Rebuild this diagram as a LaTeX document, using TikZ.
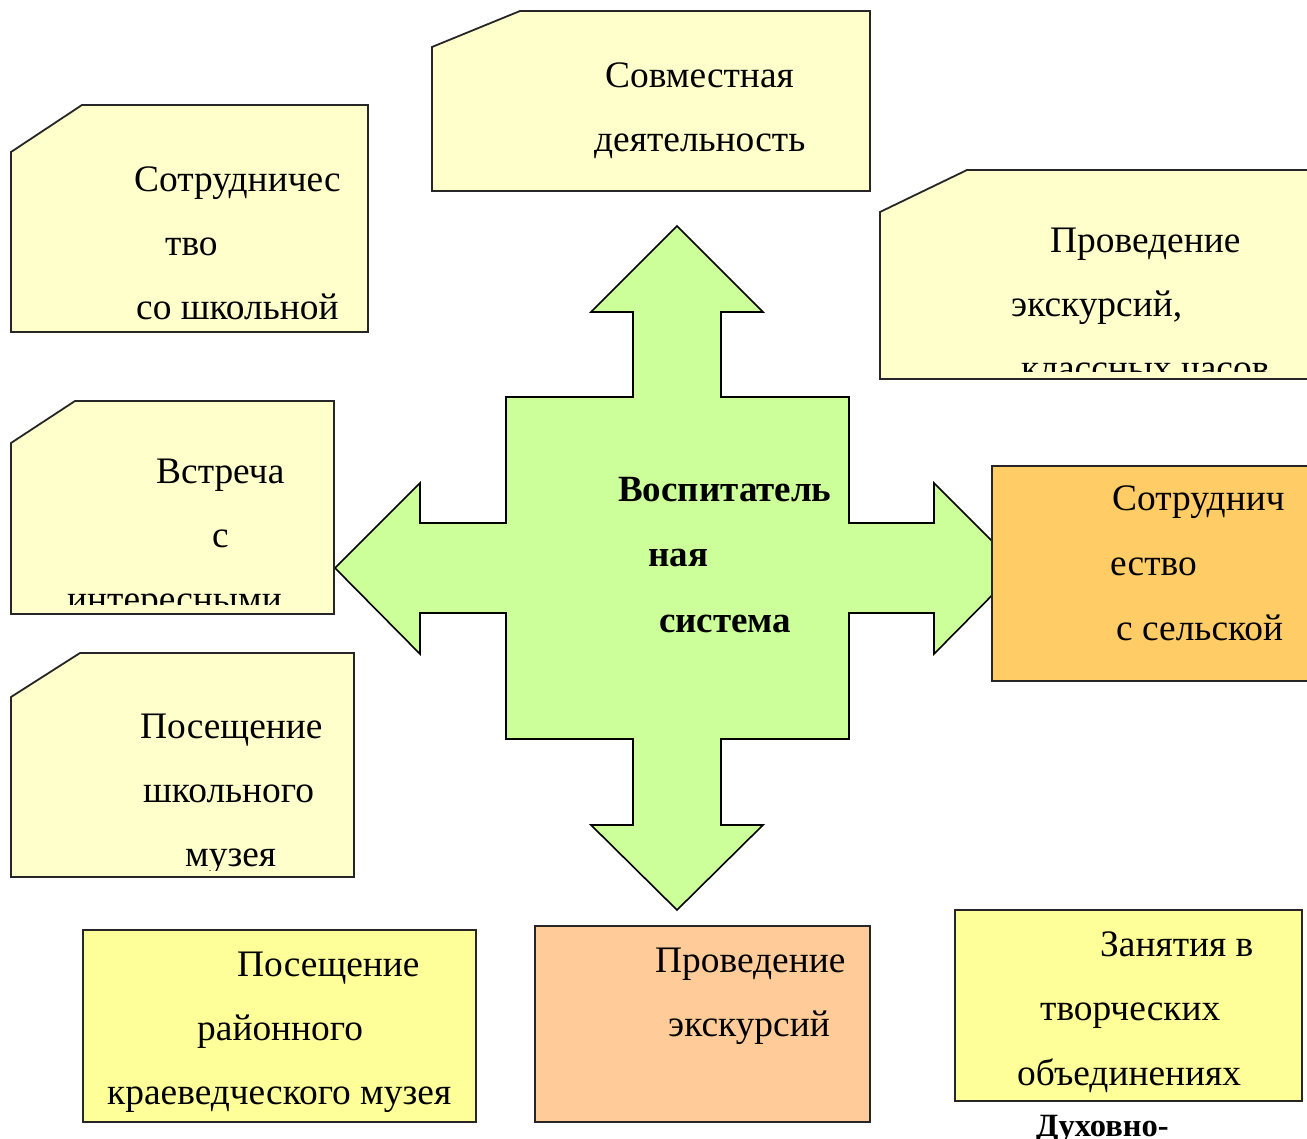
\documentclass[tikz,border=0pt]{standalone}
\usepackage{fontspec}
\setmainfont{Liberation Serif}
\definecolor{paleyel}{HTML}{FFFFCC}
\definecolor{yel}{HTML}{FFFF99}
\definecolor{orng}{HTML}{FFCC66}
\definecolor{peach}{HTML}{FFCC99}
\definecolor{lgreen}{HTML}{CCFF99}
\tikzset{
  boxline/.style={draw=black!85, line width=1.8pt},
  txt/.style={anchor=base west, inner sep=0pt, font=\fontsize{37.4}{44}\selectfont},
  btxt/.style={anchor=base west, inner sep=0pt, font=\fontsize{37}{44}\selectfont\bfseries}
}
\begin{document}
\begin{tikzpicture}[x=1pt,y=-1pt]
\useasboundingbox (0,0) rectangle (1307,1139);
\fill[white] (0,0) rectangle (1307,1139);

% central cross arrow
\draw[fill=lgreen, draw=black, line width=1.6pt, line join=miter]
  (677,226) -- (763,312) -- (721,312) -- (721,397) -- (849,397) -- (849,523)
  -- (934,523) -- (934,483) -- (1019,568) -- (934,654) -- (934,613) -- (849,613)
  -- (849,739) -- (721,739) -- (721,825) -- (763,825) -- (677,910) -- (591,825)
  -- (633,825) -- (633,739) -- (506,739) -- (506,613) -- (420,613) -- (420,654)
  -- (335,568) -- (420,483) -- (420,523) -- (506,523) -- (506,397) -- (633,397)
  -- (633,312) -- (591,312) -- cycle;
\node[btxt] (c1) at (618,501) {Воспитатель};
\node[btxt] (c2) at (648,566) {ная};
\node[btxt] (c3) at (659,632) {система};

% A: Совместная деятельность
\draw[boxline, fill=paleyel] (432,47) -- (520,11) -- (870,11) -- (870,191) -- (432,191) -- cycle;
\node[txt] (a1) at (605,88) {Совместная};
\node[txt] (a2) at (594,152) {деятельность};

% B: Сотрудничество со школьной
\draw[boxline, fill=paleyel] (11,152) -- (82,105) -- (368,105) -- (368,332) -- (11,332) -- cycle;
\node[txt] (b1) at (134,192) {Сотрудничес};
\node[txt] (b2) at (165,256) {тво};
\node[txt] (b3) at (136,320) {со школьной};

% C: Проведение экскурсий, классных часов
\draw[boxline, fill=paleyel] (880,212) -- (967,170) -- (1330,170) -- (1330,379) -- (880,379) -- cycle;
\begin{scope}
\clip (880,170) rectangle (1307,372);
\node[txt] (c4) at (1050,253) {Проведение};
\node[txt] (c5) at (1011,317) {экскурсий,};
\node[txt] (c6) at (1021,381) {классных часов};
\end{scope}

% D: Встреча с интересными
\draw[boxline, fill=paleyel] (11,443) -- (75,401) -- (334,401) -- (334,614) -- (11,614) -- cycle;
\begin{scope}
\clip (11,401) rectangle (334,604);
\node[txt] (d1) at (156,483) {Встреча};
\node[txt] (d2) at (212,547) {с};
\node[txt] (d3) at (67,611) {интересными};
\end{scope}

% E: Посещение школьного музея
\draw[boxline, fill=paleyel] (11,697) -- (80,653) -- (354,653) -- (354,877) -- (11,877) -- cycle;
\begin{scope}
\clip (11,653) rectangle (354,870);
\node[txt] (e1) at (140,738) {Посещение};
\node[txt] (e2) at (143,802) {школьного};
\node[txt] (e3) at (185,866) {музея};
\end{scope}

% F: Сотрудничество с сельской
\draw[boxline, fill=orng] (992,466) rectangle (1330,681);
\node[txt] (f1) at (1112,511) {Сотруднич};
\node[txt] (f2) at (1110,575) {ество};
\node[txt] (f3) at (1116,640) {с сельской};

% G: Посещение районного краеведческого музея
\draw[boxline, fill=yel] (83,930) rectangle (476,1122);
\node[txt] (g1) at (237,976) {Посещение};
\node[txt] (g2) at (197,1040) {районного};
\node[txt] (g3) at (107,1104) {краеведческого музея};

% H: Проведение экскурсий
\draw[boxline, fill=peach] (535,926) rectangle (870,1122);
\node[txt] (h1) at (655,972) {Проведение};
\node[txt] (h2) at (668,1036) {экскурсий};

% I: Занятия в творческих объединениях
\draw[boxline, fill=yel] (955,910) rectangle (1302,1101);
\node[txt] (i1) at (1100,956) {Занятия в};
\node[txt] (i2) at (1040,1020) {творческих};
\node[txt] (i3) at (1017,1085) {объединениях};

\node[btxt, font=\fontsize{32.5}{38}\selectfont\bfseries] (dux) at (1036,1136) {Духовно-};
\end{tikzpicture}
\end{document}
